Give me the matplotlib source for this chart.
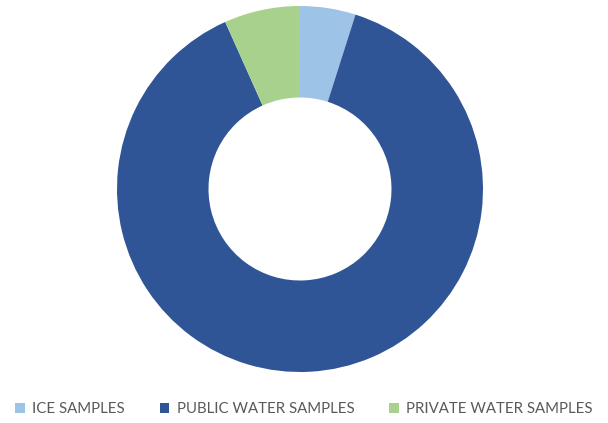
import matplotlib.pyplot as plt

labels = ['ICE SAMPLES', 'PUBLIC WATER SAMPLES', 'PRIVATE WATER SAMPLES']
values = [4.9, 88.4, 6.7]
colors = ['#9DC3E6', '#2F5597', '#A9D18E']

plt.rcParams['font.family'] = ['Lato', 'DejaVu Sans']

fig = plt.figure(figsize=(6.08, 4.23), dpi=100)
# pie centre ~ (300,189) px, radius ~183 px
ax = fig.add_axes([(300 - 183) / 608, (423 - 189 - 183) / 423, 366 / 608, 366 / 423])
wedges, _ = ax.pie(values, colors=colors, startangle=90, counterclock=False,
                   radius=1, wedgeprops=dict(width=0.5, edgecolor='none'))
ax.set_xlim(-1, 1)
ax.set_ylim(-1, 1)
ax.set_aspect('equal')
ax.axis('off')

fig.legend(wedges, labels, loc='center', bbox_to_anchor=(0.5, 1 - 409 / 423),
           ncol=3, frameon=False, fontsize=10.8, labelcolor='#595959',
           handlelength=0.65, handleheight=0.65, handletextpad=0.5,
           columnspacing=2.3)

fig.savefig('out.png', dpi=100, facecolor='white')
